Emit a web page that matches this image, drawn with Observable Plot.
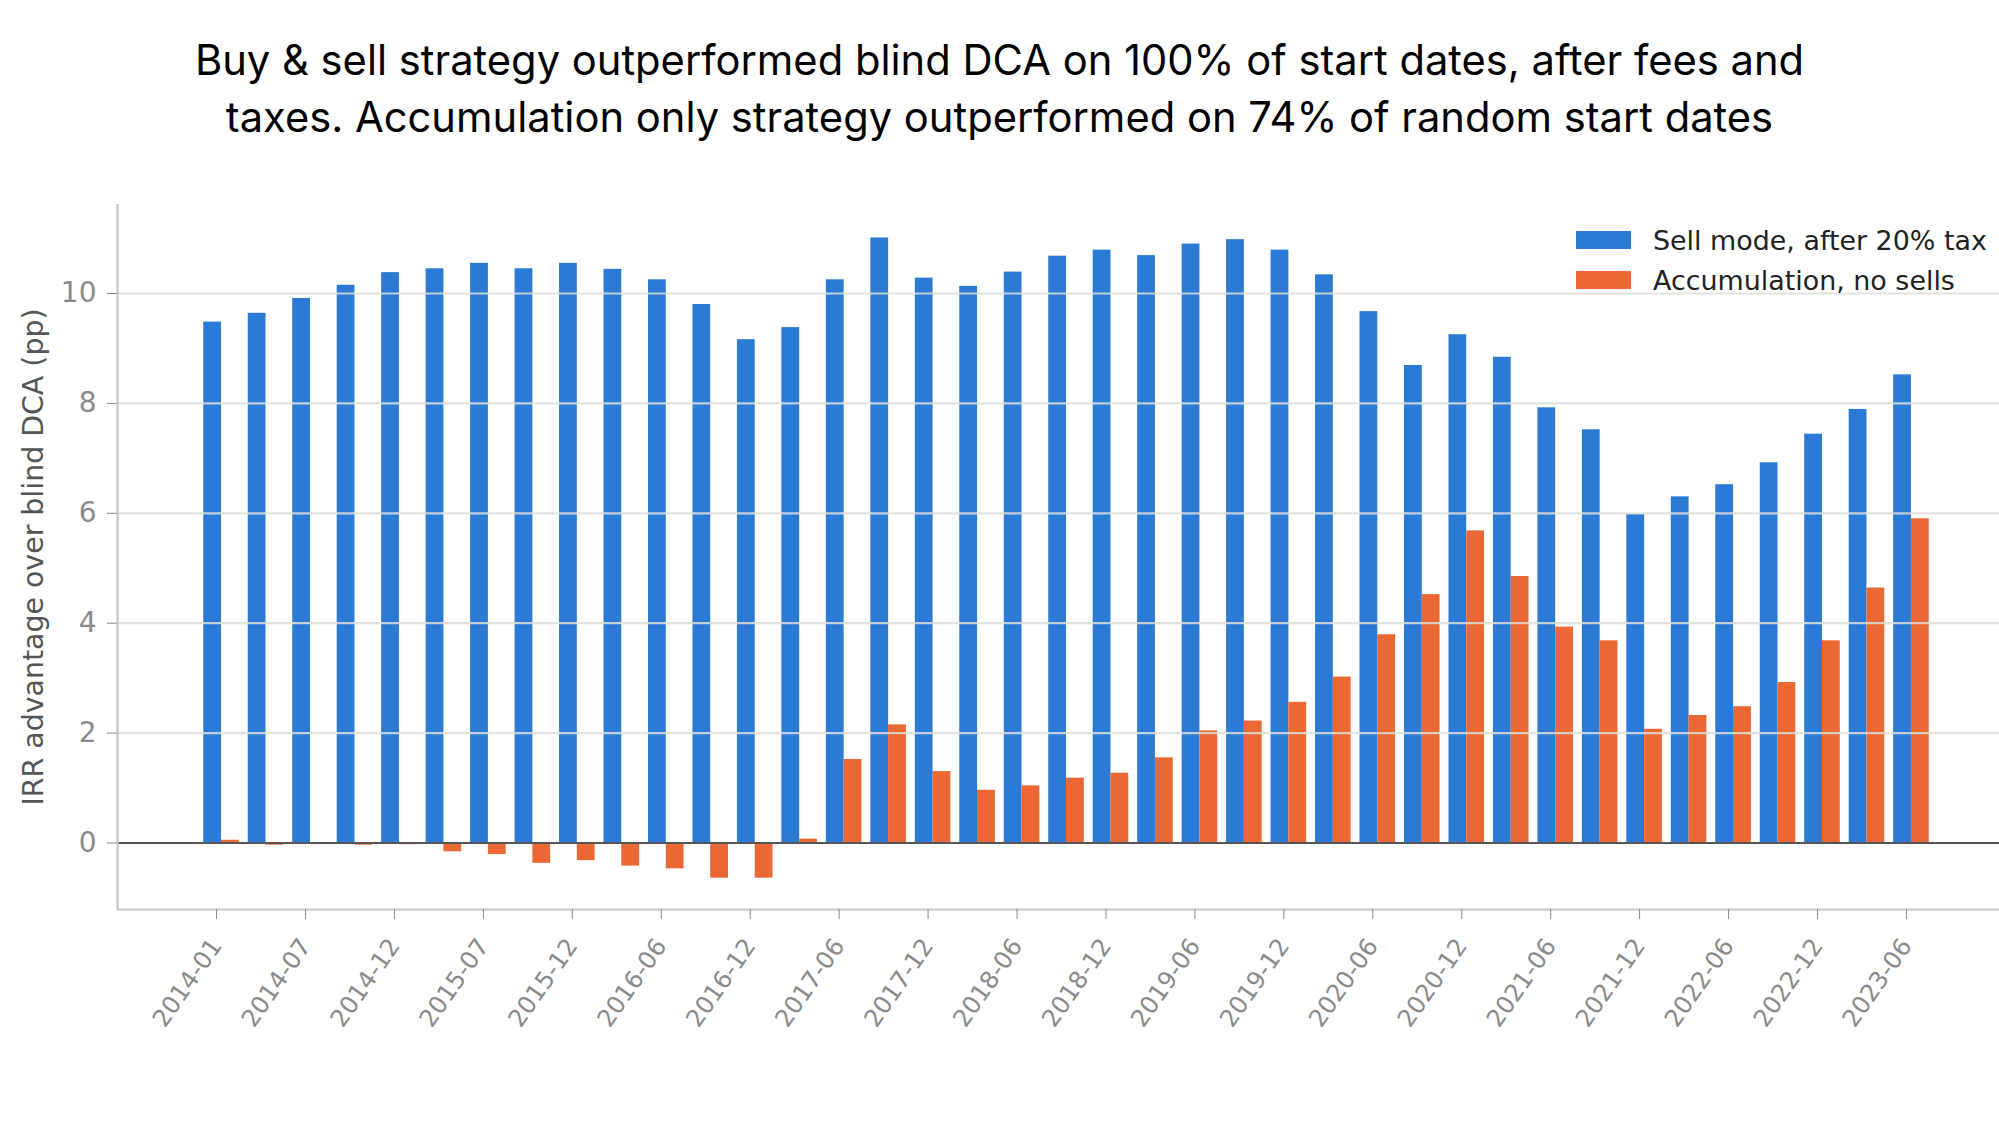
<!DOCTYPE html>
<html><head><meta charset="utf-8">
<script src="https://cdn.jsdelivr.net/npm/d3@7"></script>
<script src="https://cdn.jsdelivr.net/npm/@observablehq/plot@0.6"></script>
<style>
body{margin:0;background:#fff;width:1999px;height:1124px;position:relative;overflow:hidden}
#title{height:160px;box-sizing:border-box;padding-top:32px;text-align:center;font-family:Inter,sans-serif;font-size:41.7px;line-height:57px;color:#000}
#chart svg{display:block}
#legend{position:absolute;left:1576px;top:220px;font-family:"DejaVu Sans";font-size:26.9px;color:#222}
.row{display:flex;align-items:center;height:40px;white-space:nowrap}
.sw{width:55px;height:18px;margin-right:22px}
</style></head><body>
<div id="title">Buy &amp; sell strategy outperformed blind DCA on 100% of start dates, after fees and<br>taxes. Accumulation only strategy outperformed on 74% of random start dates</div>
<div id="chart"></div>
<div id="legend"></div>
<script>
// visible tick labels (every second start date)
const tickLabels = ["2014-01","2014-07","2014-12","2015-07","2015-12","2016-06","2016-12","2017-06","2017-12","2018-06",
  "2018-12","2019-06","2019-12","2020-06","2020-12","2021-06","2021-12","2022-06","2022-12","2023-06"];
// IRR advantage over blind DCA (pp), one value per start date
const sellMode = [9.48,9.64,9.91,10.15,10.38,10.45,10.55,10.45,10.55,10.44,
  10.25,9.80,9.16,9.38,10.25,11.01,10.28,10.13,10.39,10.68,
  10.79,10.69,10.90,10.98,10.79,10.34,9.67,8.69,9.25,8.84,
  7.92,7.52,5.98,6.30,6.52,6.92,7.44,7.89,8.52];
const accumulation = [0.05,-0.04,0.0,-0.04,-0.03,-0.16,-0.21,-0.37,-0.32,-0.42,
  -0.47,-0.64,-0.64,0.07,1.52,2.15,1.30,0.96,1.04,1.18,
  1.27,1.55,2.04,2.22,2.56,3.02,3.79,4.52,5.68,4.85,
  3.93,3.68,2.07,2.32,2.48,2.92,3.68,4.64,5.90];
const seriesNames = ["Sell mode, after 20% tax","Accumulation, no sells"];
const seriesColors = ["#2b7bd6","#eb6834"];
const yTicks = [0,2,4,6,8,10];
const yLabel = "IRR advantage over blind DCA (pp)";

const data = sellMode.map((v,i)=>({i, sell:v, acc:accumulation[i]}));
const xDomain = [-2.34, 39.98];
const yDomain = [-1.21, 11.62];
const barW = 0.4;

const chart = Plot.plot({
  width:1999, height:964, marginTop:44, marginBottom:215, marginLeft:117, marginRight:0,
  style:{fontFamily:"DejaVu Sans", background:"#fff"},
  x:{domain:xDomain, axis:null},
  y:{domain:yDomain, axis:null},
  marks:[
    Plot.rect(data,{x1:d=>d.i-barW, x2:"i", y1:0, y2:"sell", fill:seriesColors[0]}),
    Plot.rect(data,{x1:"i", x2:d=>d.i+barW, y1:0, y2:"acc", fill:seriesColors[1]}),
    Plot.gridY(yTicks,{stroke:"#deded8", strokeWidth:2.2, strokeOpacity:0.85}),
    Plot.ruleY([0],{stroke:"#555", strokeWidth:2.2}),
    Plot.ruleX([xDomain[0]],{stroke:"#c6c6be", strokeWidth:2.2}),
    Plot.ruleY([yDomain[0]],{stroke:"#c6c6be", strokeWidth:2.2}),
    Plot.axisY(yTicks,{tickSize:10, tickPadding:11, tickFormat:d3.format("d"), fontSize:28,
      stroke:"#8a8a8a", fill:"#8a8a8a", label:null}),
    Plot.axisX(d3.range(0, sellMode.length, 2),{tickSize:10, tickPadding:22, dx:-5, tickRotate:-55,
      tickFormat:i=>tickLabels[i/2], fontSize:24.2, stroke:"#8a8a8a", fill:"#8a8a8a", label:null}),
    Plot.text([yLabel],{frameAnchor:"left", textAnchor:"middle", rotate:-90, dx:-84, fontSize:28.4, fill:"#555"})
  ]
});
document.getElementById("chart").append(chart);

const legend = d3.select("#legend");
seriesNames.forEach((n,k)=>{
  const row = legend.append("div").attr("class","row");
  row.append("div").attr("class","sw").style("background",seriesColors[k]);
  row.append("span").text(n);
});
</script>
</body></html>
